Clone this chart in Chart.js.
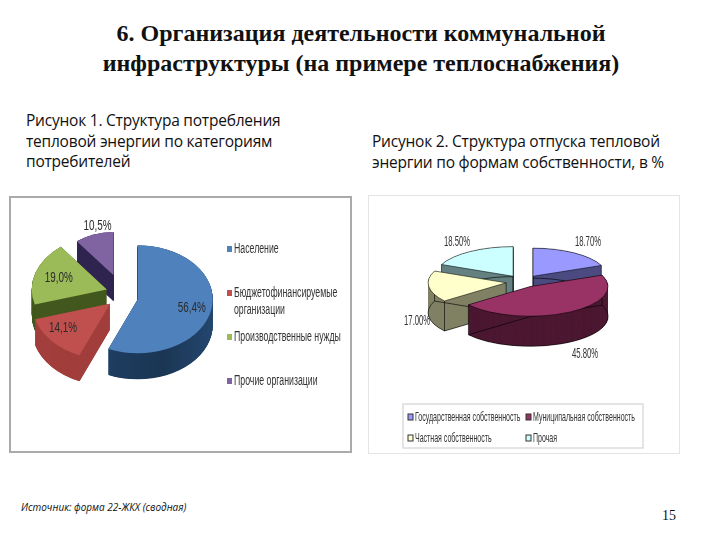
<!doctype html>
<html>
<head>
<meta charset="utf-8" />
<title>Организация деятельности коммунальной инфраструктуры</title>
<script src="https://cdn.jsdelivr.net/npm/chart.js@4"></script>
<style>
  html, body { margin: 0; background: #fff; }
  body { width: 720px; height: 540px; position: relative; overflow: hidden; color: #111; }
  .t { position: absolute; white-space: nowrap; }
  #title { left: 0; width: 722px; top: 18px; text-align: center; font: bold 24px/30px "Liberation Serif", serif; }
  .cap { font: 15.5px/20.5px "Open Sans", sans-serif; letter-spacing: -0.22px; }
  #cap1 { left: 26px; top: 110px; }
  #cap2 { left: 372px; top: 131px; }
  #src { left: 21px; top: 500px; font: italic 10px/14px "Open Sans", sans-serif; }
  #num { left: 662px; top: 508px; font: 14px/16px "Liberation Serif", serif; }
  canvas { position: absolute; }
  #frame1 { position: absolute; left: 9px; top: 196px; width: 339px; height: 253px; border: 2px solid #aaa; }
  #frame2 { position: absolute; left: 368px; top: 195px; width: 310px; height: 257px; border: 1px solid #e4e4e4; }
  #chart1 { left: 9px; top: 196px; }
  #chart2 { left: 368px; top: 195px; }
</style>
</head>
<body>
<div id="title" class="t">6. Организация деятельности коммунальной<br>инфраструктуры (на примере теплоснабжения)</div>
<div id="cap1" class="t cap">Рисунок 1. Структура потребления<br>тепловой энергии по категориям<br>потребителей</div>
<div id="cap2" class="t cap">Рисунок 2. Структура отпуска тепловой<br>энергии по формам собственности, в %</div>
<div id="frame1"></div>
<div id="frame2"></div>
<canvas id="chart1" width="341" height="256"></canvas>
<canvas id="chart2" width="312" height="259"></canvas>
<div id="src" class="t">Источник: форма 22-ЖКХ (сводная)</div>
<div id="num" class="t">15</div>
<script>
// values
const categories1 = ['Население', 'Бюджетофинансируемые организации', 'Производственные нужды', 'Прочие организации'];
const values1 = [56.4, 14.1, 19.0, 10.5];
const valueLabels1 = ['56,4%', '14,1%', '19,0%', '10,5%'];

const categories2 = ['Государственная собственность', 'Муниципальная собственность', 'Частная собственность', 'Прочая'];
const values2 = [18.7, 45.8, 17.0, 18.5];
const valueLabels2 = ['18.70%', '45.80%', '17.00%', '18.50%'];

// squeezed text, the original is a stretched bitmap
function narrowText(ctx, text, x, y, condense) {
  ctx.fillText(text, x, y, ctx.measureText(text).width * condense);
}

// fake 3d: squash the library's arcs and stack their outline underneath
const pie3d = {
  id: 'pie3d',
  afterDatasetsUpdate(chart, args, o) {
    const arcs = chart.getDatasetMeta(0).data;
    arcs.forEach((arc, i) => {
      const mid = (arc.startAngle + arc.endAngle) / 2;
      arc.cx = arc.x;
      arc.cy = arc.y;
      arc.x += Math.cos(mid) * o.explode[i];
      arc.y += Math.sin(mid) * o.explode[i] + o.nudge[i] / o.squash;
      arc.outerRadius *= o.radius[i];
    });
  },
  beforeDatasetDraw(chart, args, o) {
    const ctx = chart.ctx;
    const arcs = chart.getDatasetMeta(0).data;
    const cy = arcs[0].cy;
    ctx.save();
    ctx.translate(0, cy);
    ctx.scale(1, o.squash);
    ctx.translate(0, -cy);
    const steps = o.depth / o.squash;
    o.order.forEach((i) => {
      const arc = arcs[i];
      const sector = (dy) => {
        ctx.beginPath();
        ctx.moveTo(arc.x, arc.y + dy);
        ctx.arc(arc.x, arc.y + dy, arc.outerRadius, arc.startAngle, arc.endAngle);
        ctx.closePath();
      };
      let fill = o.side[i];
      if (Array.isArray(fill)) {
        const g = ctx.createLinearGradient(arc.x - arc.outerRadius, 0, arc.x + arc.outerRadius, 0);
        fill.forEach((c, n) => g.addColorStop(n / (fill.length - 1), c));
        fill = g;
      }
      ctx.fillStyle = fill;
      for (let dy = steps; dy > 0; dy -= 0.5) {
        sector(dy);
        ctx.fill();
      }
      if (o.outline) {
        ctx.strokeStyle = o.outline;
        ctx.lineWidth = 0.9;
        sector(steps);
        ctx.stroke();
        [arc.startAngle, arc.endAngle].forEach((a) => {
          const px = arc.x + Math.cos(a) * arc.outerRadius;
          const py = arc.y + Math.sin(a) * arc.outerRadius;
          ctx.beginPath();
          ctx.moveTo(px, py);
          ctx.lineTo(px, py + steps);
          ctx.stroke();
        });
        ctx.beginPath();
        ctx.moveTo(arc.x, arc.y);
        ctx.lineTo(arc.x, arc.y + steps);
        ctx.stroke();
      }
    });
  },
  afterDatasetDraw(chart) {
    chart.ctx.restore();
  },
  afterDraw(chart, args, o) {
    const ctx = chart.ctx;
    const arcs = chart.getDatasetMeta(0).data;
    const cy = arcs[0].cy;
    ctx.save();
    // slice labels
    ctx.font = o.labelFont;
    ctx.fillStyle = o.labelColor;
    ctx.textAlign = 'center';
    ctx.textBaseline = 'middle';
    arcs.forEach((arc, i) => {
      const y = cy + (arc.y - cy) * o.squash;
      narrowText(ctx, o.labels[i], arc.x + o.labelDx[i], y + o.labelDy[i], o.labelCondense);
    });
    // legend
    if (o.legendBox) {
      const b = o.legendBox;
      ctx.fillStyle = '#fff';
      ctx.fillRect(b[0], b[1], b[2], b[3]);
      ctx.strokeStyle = '#dcdcdc';
      ctx.lineWidth = 1.5;
      ctx.strokeRect(b[0], b[1], b[2], b[3]);
    }
    ctx.textAlign = 'left';
    ctx.font = o.legendFont;
    o.legendLines.forEach((lines, i) => {
      const x = o.legendX[i], y = o.legendY[i];
      ctx.fillStyle = chart.data.datasets[0].backgroundColor[i];
      ctx.fillRect(x - 5, y - 3, 5, 6);
      if (o.outline) {
        ctx.strokeStyle = '#333';
        ctx.lineWidth = 1;
        ctx.strokeRect(x - 5, y - 3, 5, 6);
      }
      ctx.fillStyle = o.legendColor;
      lines.forEach((line, n) => narrowText(ctx, line, x + 2, y + n * 17, o.legendCondense));
    });
    ctx.restore();
  }
};

function pieChart(id, cats, values, colors, borderColor, borderWidth, radius, padding, opts) {
  return new Chart(document.getElementById(id), {
    type: 'pie',
    data: { labels: cats, datasets: [{ data: values, backgroundColor: colors, borderColor, borderWidth, clip: false }] },
    options: {
      responsive: false,
      animation: false,
      radius,
      layout: { padding },
      plugins: { legend: { display: false }, tooltip: { enabled: false }, pie3d: opts }
    },
    plugins: [pie3d]
  });
}

pieChart('chart1', categories1, values1, ['#4f81bd', '#c0504d', '#9bbb59', '#8064a2'], 'rgba(0,0,0,0)', 0, 75,
  { left: 0, right: 115, top: 0, bottom: 62 }, {
    squash: 0.72,
    depth: 26,
    explode: [16, 16, 16, 26],
    nudge: [4, 3, 0, 0],
    radius: [1, 1.04, 1, 0.8],
    order: [3, 2, 1, 0],
    side: [['#3f6fa5', '#1d3c5e', '#1b3654', '#23466e'], '#a23f3c', '#43591f', '#2f2450'],
    labels: valueLabels1,
    labelDx: [54, -47, -48, -16],
    labelDy: [9, 24, -12, -49],
    labelFont: '15px "Liberation Sans", sans-serif',
    labelCondense: 0.66,
    labelColor: '#2a2a2a',
    legendLines: [['Население'], ['Бюджетофинансируемые', 'организации'], ['Производственные нужды'], ['Прочие организации']],
    legendX: [223, 223, 223, 223],
    legendY: [53, 97, 141, 185],
    legendFont: '14px "Liberation Sans", sans-serif',
    legendCondense: 0.625,
    legendColor: '#333'
  });

pieChart('chart2', categories2, values2, ['#9999ff', '#993366', '#ffffcc', '#ccffff'], '#000', 0.8, 78,
  { left: 0, right: 2, top: 0, bottom: 85 }, {
    squash: 0.38,
    depth: 30,
    explode: [18, 14, 17, 18],
    nudge: [0, 0, 0, 0],
    radius: [0.95, 1, 1, 1],
    order: [3, 0, 2, 1],
    side: ['#4d4d80', '#4d1933', '#808066', '#668080'],
    outline: '#000',
    labels: valueLabels2,
    labelDx: [55, 55, -89, -56],
    labelDy: [-34, 68, 38, -34],
    labelFont: '14px "Liberation Sans", sans-serif',
    labelCondense: 0.55,
    labelColor: '#333',
    legendBox: [35, 209, 240, 44],
    legendLines: [['Государственная собственность'], ['Муниципальная собственность'], ['Частная собственность'], ['Прочая']],
    legendX: [45, 163, 45, 163],
    legendY: [222, 222, 243, 243],
    legendFont: '13px "Liberation Sans", sans-serif',
    legendCondense: 0.54,
    legendColor: '#333'
  });
</script>
</body>
</html>
